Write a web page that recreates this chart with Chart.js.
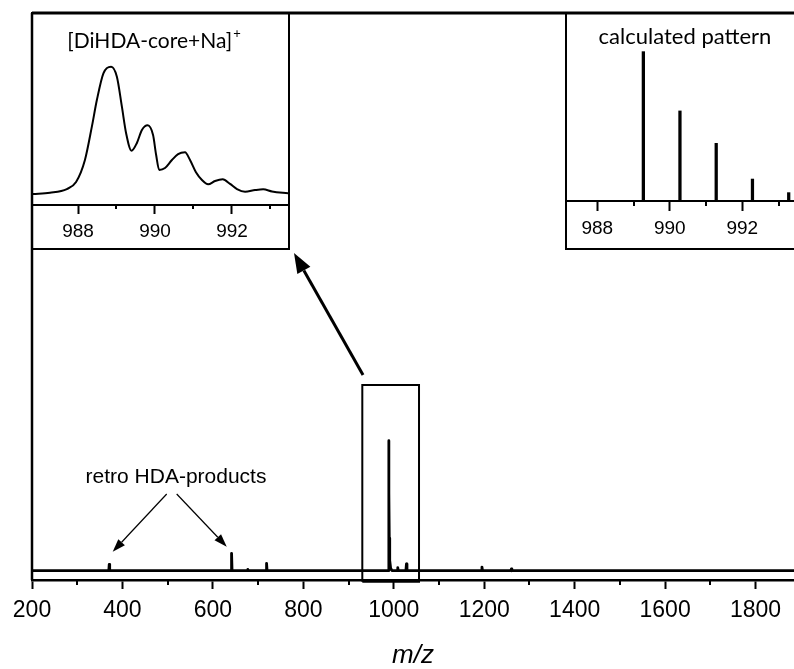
<!DOCTYPE html>
<html>
<head>
<meta charset="utf-8">
<script src="https://cdn.jsdelivr.net/npm/chart.js@4.4.1/dist/chart.umd.min.js"></script>
<style>
  html, body { margin: 0; padding: 0; background: #fff; overflow: hidden; }
  #wrap { position: relative; width: 794px; height: 669px; overflow: hidden; background: #fff; }
  #main { position: absolute; left: 0; top: 0; }
  .inset { position: absolute; border: 2px solid #000; box-sizing: content-box; background: transparent; }
  .inset canvas { display: block; }
  #box1 { left: 31px; top: 12px; width: 255px; height: 234px; }
  #box2 { left: 565px; top: 12px; width: 227px; height: 234px; }
</style>
</head>
<body>
<div id="wrap">
  <canvas id="main" width="794" height="669"></canvas>
  <div class="inset" id="box1"><canvas id="exp" width="255" height="234"></canvas></div>
  <div class="inset" id="box2"><canvas id="calc" width="227" height="234"></canvas></div>
</div>
<script>
// ---------- full MALDI spectrum (m/z, relative intensity %) ----------
const spectrumMz = [200, 369.8, 370.8, 371.8, 640.2, 641.3, 642.4,
  676.5, 677.3, 678.1, 717.6, 718.7, 719.8,
  987.6, 988.8, 989.4, 990, 991, 993, 996,
  1007.8, 1008.8, 1009.8, 1026.8, 1028, 1029.2,
  1193.8, 1195, 1196.2, 1258.8, 1260, 1261.2, 1885];
const spectrumIntensity = [0, 0, 4.9, 0, 0, 13.4, 0,
  0, 1.0, 0, 0, 5.7, 0,
  0, 100, 60, 25, 8, 2, 0,
  0, 2.3, 0, 0, 5.2, 0,
  0, 2.8, 0, 0, 1.3, 0, 0];
const spectrumTicks = [200, 400, 600, 800, 1000, 1200, 1400, 1600, 1800];
const spectrumMinorTicks = [300, 500, 700, 900, 1100, 1300, 1500, 1700];

// ---------- measured isotope envelope of [DiHDA-core+Na]+ ----------
const envelopeMz = [986.83, 987.27, 987.71, 987.95, 988.18, 988.36, 988.49, 988.66, 988.86,
  989.01, 989.14, 989.25, 989.39, 989.53, 989.66, 989.81, 989.95, 990.03, 990.11,
  990.26, 990.44, 990.60, 990.78, 990.91, 991.06, 991.22, 991.38, 991.56, 991.76,
  991.95, 992.13, 992.34, 992.60, 992.81, 993.04, 993.46];
const envelopeIntensity = [0, 1.0, 3.9, 9.4, 26.7, 52.9, 73.8, 94.8, 100,
  92.1, 68.6, 47.7, 34.0, 40.1, 50.3, 54.0, 46.3, 30.6, 18.9,
  20.4, 26.7, 31.4, 32.8, 26.7, 17.3, 11.0, 7.6, 10.2, 11.5,
  7.9, 3.9, 1.8, 3.1, 3.7, 2.0, 0.5];

// ---------- calculated isotope pattern ----------
const patternMz = [989.27, 990.28, 991.28, 992.28, 993.28];
const patternAbundance = [100, 60.3, 38.6, 14.7, 5.6];

const insetTicks = [988, 990, 992];
const insetMinorTicks = [989, 991, 993];

// ---------- fonts ----------
const SANS = '"Liberation Sans", Arial, sans-serif';
const TITLE_FONT = 'Lato, "Noto Sans", sans-serif';

Chart.defaults.font.family = SANS;
Chart.defaults.color = '#000';

const toXY = (xs, ys) => xs.map((x, i) => ({ x: x, y: ys[i] }));

function drawArrow(ctx, x0, y0, x1, y1, width, headLen, headWid) {
  const ang = Math.atan2(y1 - y0, x1 - x0);
  const bx = x1 - headLen * Math.cos(ang), by = y1 - headLen * Math.sin(ang);
  ctx.save();
  ctx.strokeStyle = '#000';
  ctx.fillStyle = '#000';
  ctx.lineWidth = width;
  ctx.beginPath();
  ctx.moveTo(x0, y0);
  ctx.lineTo(bx, by);
  ctx.stroke();
  const nx = -Math.sin(ang) * headWid / 2, ny = Math.cos(ang) * headWid / 2;
  ctx.beginPath();
  ctx.moveTo(x1, y1);
  ctx.lineTo(bx + nx, by + ny);
  ctx.lineTo(bx - nx, by - ny);
  ctx.closePath();
  ctx.fill();
  ctx.restore();
}

// short minor tick marks under the x axis
const minorTicks = {
  id: 'minorTicks',
  afterDraw(chart, args, opts) {
    const sx = chart.scales.x, ctx = chart.ctx;
    ctx.save();
    ctx.strokeStyle = '#000';
    ctx.lineWidth = opts.width;
    opts.values.forEach(v => {
      if (v < sx.min || v > sx.max) return;
      const px = Math.round(sx.getPixelForValue(v));
      ctx.beginPath();
      ctx.moveTo(px, sx.top);
      ctx.lineTo(px, sx.top + opts.length);
      ctx.stroke();
    });
    ctx.restore();
  }
};

// left/top frame of the main plot plus the annotations
const mainDecor = {
  id: 'mainDecor',
  afterDraw(chart, args, o) {
    const ctx = chart.ctx, a = chart.chartArea;
    const sx = chart.scales.x, sy = chart.scales.y;
    const P = p => [sx.getPixelForValue(p[0]), sy.getPixelForValue(p[1])];
    ctx.save();
    ctx.strokeStyle = '#000';
    ctx.lineWidth = 3;
    ctx.beginPath();
    ctx.moveTo(a.left, a.top);
    ctx.lineTo(a.right + 2, a.top);
    ctx.stroke();
    ctx.lineWidth = 2.5;
    ctx.beginPath();
    ctx.moveTo(a.left, a.top);
    ctx.lineTo(a.left, a.bottom);
    ctx.stroke();

    // label for the fragment peaks
    const t = P(o.label.at);
    ctx.font = '21px ' + SANS;
    ctx.fillStyle = '#000';
    ctx.textAlign = 'center';
    ctx.textBaseline = 'middle';
    ctx.fillText(o.label.text, t[0], t[1]);

    o.thinArrows.forEach(ar => {
      const s = P(ar[0]), e = P(ar[1]);
      drawArrow(ctx, s[0], s[1], e[0], e[1], 1.2, 13, 9);
    });
    const s = P(o.bigArrow[0]), e = P(o.bigArrow[1]);
    drawArrow(ctx, s[0], s[1], e[0], e[1], 3, 20, 15);
    ctx.restore();
  }
};

// text heading inside an inset
const insetHeading = {
  id: 'insetHeading',
  afterDraw(chart, args, o) {
    const ctx = chart.ctx;
    ctx.save();
    ctx.fillStyle = '#000';
    ctx.font = o.size + 'px ' + TITLE_FONT;
    ctx.textBaseline = 'middle';
    const w = ctx.measureText(o.text).width;
    let supW = 0;
    if (o.sup) {
      ctx.font = Math.round(o.size * 0.62) + 'px ' + TITLE_FONT;
      supW = ctx.measureText(o.sup).width;
    }
    const x0 = o.x - (w + supW) / 2;
    ctx.font = o.size + 'px ' + TITLE_FONT;
    ctx.textAlign = 'left';
    ctx.fillText(o.text, x0, o.y);
    if (o.sup) {
      ctx.font = Math.round(o.size * 0.62) + 'px ' + TITLE_FONT;
      ctx.fillText(o.sup, x0 + w + 1, o.y - o.size * 0.32);
    }
    ctx.restore();
  }
};

// ---------- main spectrum ----------
new Chart(document.getElementById('main'), {
  type: 'line',
  data: {
    datasets: [
      {
        data: toXY(spectrumMz, spectrumIntensity),
        borderColor: '#000',
        borderWidth: 2.8,
        borderJoinStyle: 'round',
        pointRadius: 0,
        tension: 0
      },
      {
        // frame around the [DiHDA-core+Na]+ region that is enlarged in the inset
        data: [{ x: 930.4, y: -8.5 }, { x: 1055.8, y: -8.5 }, { x: 1055.8, y: 142.8 },
               { x: 930.4, y: 142.8 }, { x: 930.4, y: -8.5 }],
        borderColor: '#000',
        borderWidth: 2,
        borderJoinStyle: 'miter',
        pointRadius: 0,
        tension: 0,
        clip: false
      }
    ]
  },
  options: {
    responsive: false,
    animation: false,
    events: [],
    layout: { padding: { left: 32, top: 13, right: 0, bottom: 0 } },
    plugins: {
      legend: { display: false },
      tooltip: { enabled: false },
      minorTicks: { values: spectrumMinorTicks, length: 5, width: 2 },
      mainDecor: {
        label: { text: 'retro HDA-products', at: [518.4, 71.8] },
        thinArrows: [
          [[497.9, 59.0], [378.5, 14.6]],
          [[520.0, 59.0], [630.6, 18.5]]
        ],
        bigArrow: [[932, 150.5], [779.4, 244.4]]
      }
    },
    scales: {
      x: {
        type: 'linear',
        min: 200,
        max: 1885,
        afterBuildTicks: s => { s.ticks = spectrumTicks.map(v => ({ value: v })); },
        afterFit: s => { s.height = 89; },
        border: { display: true, color: '#000', width: 2.5 },
        grid: { display: true, drawOnChartArea: false, drawTicks: true, tickLength: 9, tickWidth: 2, tickColor: '#000' },
        ticks: {
          color: '#000',
          padding: 8,
          maxRotation: 0,
          autoSkip: false,
          font: { family: SANS, size: 23 },
          callback: v => String(v)
        },
        title: {
          display: true,
          text: 'm/z',
          color: '#000',
          font: { family: SANS, size: 26, style: 'italic', lineHeight: 1 },
          padding: { top: 0, bottom: 0 }
        }
      },
      y: { type: 'linear', min: -7.15, max: 429, display: false }
    }
  },
  plugins: [minorTicks, mainDecor]
});

// shared x axis settings for the two insets
function insetX(min, max, height, tickLen, pad) {
  return {
    type: 'linear',
    min: min,
    max: max,
    offset: false,
    afterBuildTicks: s => { s.ticks = insetTicks.map(v => ({ value: v })); },
    afterFit: s => { s.height = height; },
    border: { display: true, color: '#000', width: 2 },
    grid: { display: true, offset: false, drawOnChartArea: false, drawTicks: true, tickLength: tickLen, tickWidth: 2, tickColor: '#000' },
    ticks: {
      color: '#000',
      padding: pad,
      maxRotation: 0,
      autoSkip: false,
      font: { family: SANS, size: 19 },
      callback: v => String(v)
    }
  };
}

// ---------- measured isotope envelope ----------
new Chart(document.getElementById('exp'), {
  type: 'line',
  data: {
    datasets: [{
      data: toXY(envelopeMz, envelopeIntensity),
      borderColor: '#000',
      borderWidth: 2,
      borderJoinStyle: 'round',
      pointRadius: 0,
      cubicInterpolationMode: 'monotone'
    }]
  },
  options: {
    responsive: false,
    animation: false,
    events: [],
    layout: { padding: 0 },
    plugins: {
      legend: { display: false },
      tooltip: { enabled: false },
      minorTicks: { values: insetMinorTicks, length: 4, width: 2 },
      insetHeading: { text: '[DiHDA-core+Na]', sup: '+', size: 21, x: 120.5, y: 27 }
    },
    scales: {
      x: insetX(986.831, 993.455, 43, 9, 6),
      y: { type: 'linear', min: -8.64, max: 141.4, display: false }
    }
  },
  plugins: [minorTicks, insetHeading]
});

// ---------- calculated isotope pattern ----------
new Chart(document.getElementById('calc'), {
  type: 'bar',
  data: {
    datasets: [{
      data: toXY(patternMz, patternAbundance),
      backgroundColor: '#000',
      borderWidth: 0,
      barThickness: 2.6
    }]
  },
  options: {
    responsive: false,
    animation: false,
    events: [],
    layout: { padding: 0 },
    plugins: {
      legend: { display: false },
      tooltip: { enabled: false },
      minorTicks: { values: insetMinorTicks, length: 5, width: 2 },
      insetHeading: { text: 'calculated pattern', size: 22, x: 118, y: 23 }
    },
    scales: {
      x: insetX(987.164, 993.426, 47, 10, 6),
      y: { type: 'linear', min: 0, max: 125.2, display: false }
    }
  },
  plugins: [minorTicks, insetHeading]
});
</script>
</body>
</html>
